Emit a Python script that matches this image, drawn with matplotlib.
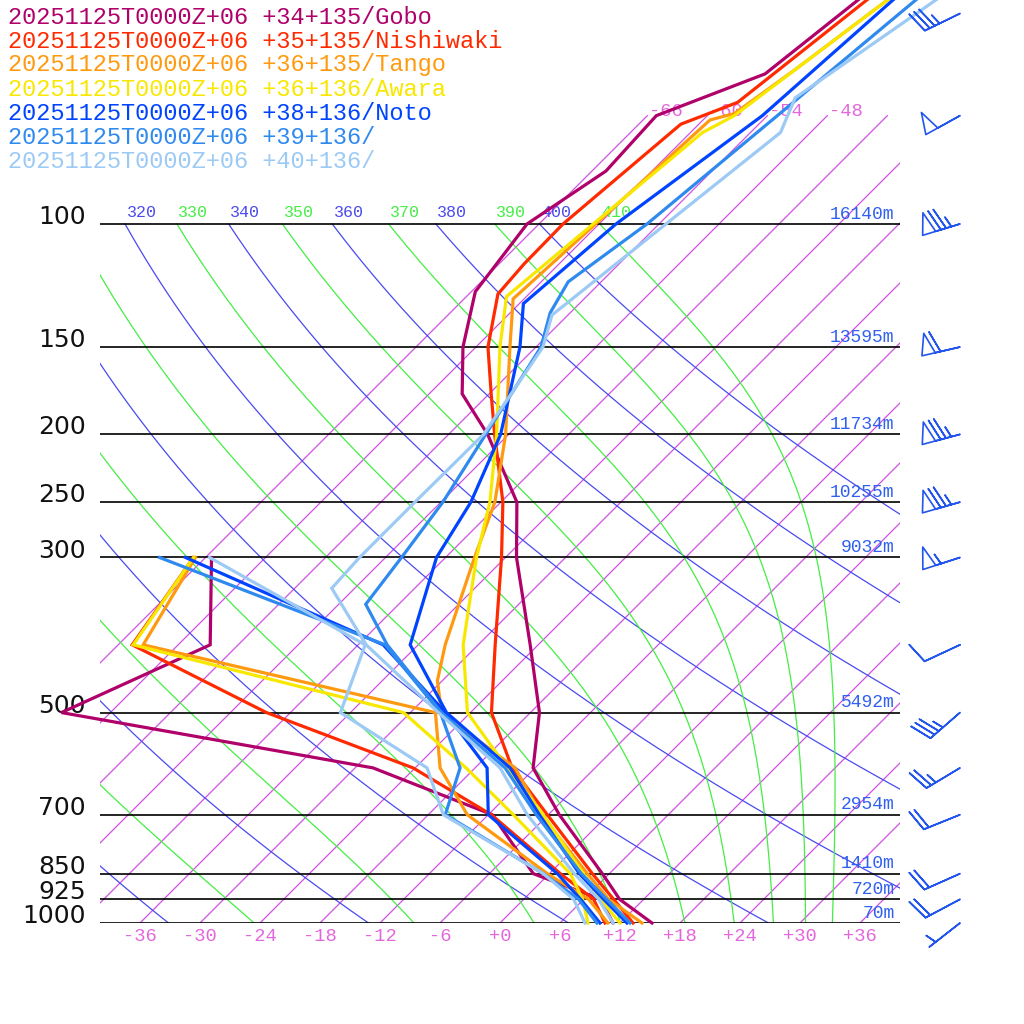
import numpy as np
import matplotlib
matplotlib.use("Agg")
import matplotlib.pyplot as plt

# --- sounding data (pressure hPa, temperature / dewpoint degC) ---
td_levels = [1000, 925, 850, 700, 600, 500, 400, 300]

gobo_p = [1000, 925, 850, 700, 600, 500, 400, 300, 250, 200, 175, 150, 125, 100, 84, 70, 61, 40]
gobo_t = [15.2, 9.6, 5.3, -4.9, -12.2, -17.1, -24.8, -34.9, -40.4, -50.1, -56.7, -61.3, -65.6, -67.2, -64.6, -65.1, -58.4, -55.1]
gobo_td = [11.3, 7.7, -1.6, -11.6, -28.2, -64.9, -56.8, -65.4]

nishiwaki_p = [1000, 925, 850, 700, 600, 500, 400, 300, 250, 200, 175, 150, 126, 114, 100, 72, 67, 40]
nishiwaki_t = [13.3, 9.0, 4.3, -6.1, -14.3, -21.9, -28.3, -36.4, -41.8, -49.4, -53.8, -58.8, -63.1, -63.5, -63.6, -61.8, -58.3, -54.2]
nishiwaki_td = [10.5, 7.0, 1.1, -11.7, -24.2, -44.4, -64.6, -67.2]

tango_p = [1000, 925, 850, 700, 600, 500, 450, 400, 300, 250, 200, 150, 128, 71, 69.5, 60, 50, 40]
tango_t = [14.2, 8.5, 3.8, -6.7, -14.0, -26.9, -30.5, -33.3, -39.1, -42.6, -48.3, -56.6, -61.1, -59.3, -57.5, -55.8, -54.0, -51.7]
tango_td = [10.8, 6.5, -0.2, -14.1, -21.5, -27.5, -63.5, -67.0]

awara_p = [1000, 925, 850, 700, 600, 500, 400, 352, 300, 250, 200, 150, 127, 74, 70, 50, 40]
awara_t = [12.0, 7.7, 3.4, -6.5, -14.8, -24.3, -31.5, -34.8, -38.9, -43.1, -49.2, -57.6, -62.0, -58.8, -57.3, -54.0, -51.7]
awara_td = [8.8, 5.9, 2.1, -9.5, -18.9, -30.7, -64.5, -67.2]

noto_p = [1000, 925, 850, 700, 600, 500, 400, 300, 250, 200, 150, 130, 100, 70, 40]
noto_t = [12.7, 8.0, 3.0, -6.9, -14.5, -26.4, -36.8, -42.9, -45.0, -48.8, -55.6, -59.6, -58.3, -54.5, -52.3]
noto_td = [10.0, 5.7, 0.8, -12.0, -16.8, -26.5, -39.5, -68.0]

n39_p = [1000, 925, 850, 700, 600, 500, 400, 350, 300, 250, 150, 134, 121, 100, 70, 50, 40]
n39_t = [13.0, 8.3, 3.2, -7.2, -15.0, -26.9, -39.1, -45.3, -46.4, -47.8, -53.5, -56.0, -57.3, -55.2, -53.0, -51.0, -49.6]
n39_td = [9.7, 5.5, -0.6, -16.3, -19.5, -27.0, -39.3, -70.6]

n40_p = [1000, 925, 850, 700, 600, 500, 400, 332, 300, 250, 200, 150, 135, 74, 66, 50, 40]
n40_t = [11.3, 7.5, 2.5, -8.1, -15.5, -27.2, -41.2, -50.3, -50.6, -50.6, -50.5, -53.3, -55.6, -51.0, -53.0, -49.3, -46.4]
n40_td = [8.5, 5.0, -0.6, -16.5, -22.8, -37.0, -41.3, -65.6]

labels = ["20251125T0000Z+06 +34+135/Gobo",
          "20251125T0000Z+06 +35+135/Nishiwaki",
          "20251125T0000Z+06 +36+135/Tango",
          "20251125T0000Z+06 +36+136/Awara",
          "20251125T0000Z+06 +38+136/Noto",
          "20251125T0000Z+06 +39+136/",
          "20251125T0000Z+06 +40+136/"]
colors = ["#b0006a", "#ff2a00", "#ff9a10", "#f8e800", "#0044ff", "#2f8af0", "#9ccaf5"]

# standard levels, geopotential heights
std_p = [1000, 925, 850, 700, 500, 300, 250, 200, 150, 100]
std_h = [70, 720, 1410, 2954, 5492, 9032, 10255, 11734, 13595, 16140]

# wind
wind_p = [1000, 925, 850, 700, 600, 500, 400, 300, 250, 200, 150, 100, 70, 50]
wind_dir = [232, 242, 246, 248, 239, 229, 245, 252, 254, 255, 257, 253, 241, 244]
wind_spd = [5, 20, 20, 20, 25, 35, 10, 55, 75, 75, 60, 75, 50, 35]

isotherms = list(range(-66, 37, 6))
bottom_isotherm_labels = list(range(-36, 37, 6))
top_isotherm_labels = [-66, -60, -54, -48]
dry_thetas = list(range(240, 401, 20))
moist_thetas = list(range(250, 411, 20))

K = 30.36  # skew
P_TOP = 1000 * np.exp(-923 / 303.6)


def skx(t, p):
    return np.asarray(t, float) + K * np.log(1000.0 / np.asarray(p, float))


def es(tk):
    return 6.112 * np.exp(17.67 * (tk - 273.15) / (tk - 29.65))


def rsat(tk, p):
    e = es(tk)
    return 0.622 * e / (p - e)


def dtdp(tk, p):
    r = rsat(tk, p)
    return (287.04 * tk + 2.501e6 * r) / (1005.7 + 2.501e6 ** 2 * r * 0.622 / (287.04 * tk * tk)) / p


def thetae_1000(tk):
    r = rsat(tk, 1000.0)
    return tk * np.exp((3376.0 / tk - 2.54) * r * (1 + 0.81 * r))


def moist_line(the, pp):
    lo, hi = 200.0, 320.0
    for _ in range(60):
        mid = 0.5 * (lo + hi)
        if thetae_1000(mid) > the:
            hi = mid
        else:
            lo = mid
    t = 0.5 * (lo + hi)
    out = [t]
    for i in range(len(pp) - 1):
        p0, dp = pp[i], pp[i + 1] - pp[i]
        k1 = dtdp(t, p0)
        k2 = dtdp(t + 0.5 * dp * k1, p0 + 0.5 * dp)
        k3 = dtdp(t + 0.5 * dp * k2, p0 + 0.5 * dp)
        k4 = dtdp(t + dp * k3, p0 + dp)
        t = t + dp / 6 * (k1 + 2 * k2 + 2 * k3 + k4)
        out.append(t)
    return np.array(out) - 273.15


fig = plt.figure(figsize=(10.24, 10.24), dpi=100)
ax = fig.add_axes([100 / 1024, 101 / 1024, 800 / 1024, 923 / 1024])
ax.set_yscale("log")
ax.set_ylim(1000, P_TOP)
ax.set_xlim(-40, 40)
ax.set_axis_off()

mono = "Liberation Mono"
iso_c = "#d050e0"
dry_c = "#4a4af0"
moist_c = "#44ee44"

# isotherms
for t in isotherms:
    pp = np.array([1000.0, 70.0])
    ax.plot(skx(t, pp), pp, color=iso_c, lw=0.9, zorder=1)
for t in bottom_isotherm_labels:
    ax.annotate(f"{t:+d}", xy=(t, 1000), xytext=(0, -10), textcoords="offset points",
                ha="center", va="center", fontsize=13.5, family=mono, color="#e466dc",
                annotation_clip=False)
for t in top_isotherm_labels:
    ax.annotate(f"{t:+d}", xy=(skx(t, 70), 70), xytext=(1, 0), textcoords="offset points",
                ha="left", va="baseline", fontsize=13.5, family=mono, color="#e466dc",
                annotation_clip=False)

pp = np.geomspace(1000, 100, 181)
# dry adiabats
for th in dry_thetas:
    tt = th * (pp / 1000.0) ** 0.2857 - 273.15
    ax.plot(skx(tt, pp), pp, color=dry_c, lw=0.9, zorder=1)
    ax.annotate(str(th), xy=(skx(tt[-1], 100), 100), xytext=(1, 3), textcoords="offset points",
                ha="left", va="bottom", fontsize=12, family=mono, color=dry_c, clip_on=True)
# moist adiabats
for th in moist_thetas:
    tt = moist_line(th, pp)
    ax.plot(skx(tt, pp), pp, color=moist_c, lw=0.9, zorder=1)
    ax.annotate(str(th), xy=(skx(tt[-1], 100), 100), xytext=(1, 3), textcoords="offset points",
                ha="left", va="bottom", fontsize=12, family=mono, color=moist_c, clip_on=True)

# pressure lines, labels, heights
for p, h in zip(std_p, std_h):
    ax.plot([-40, 40], [p, p], color="black", lw=1.2, zorder=2)
    ax.annotate(str(p), xy=(-40, p), xytext=(-10, 5), textcoords="offset points",
                ha="right", va="center", fontsize=18, color="#111111", annotation_clip=False)
    ax.annotate(f"{h}m", xy=(40, p), xytext=(-4, 1), textcoords="offset points",
                ha="right", va="bottom", fontsize=13, family=mono, color="#3060f0",
                annotation_clip=False)

# soundings
stations = [(gobo_p, gobo_t, gobo_td), (nishiwaki_p, nishiwaki_t, nishiwaki_td),
            (tango_p, tango_t, tango_td), (awara_p, awara_t, awara_td),
            (noto_p, noto_t, noto_td), (n39_p, n39_t, n39_td), (n40_p, n40_t, n40_td)]
for (p, t, td), c in zip(stations, colors):
    ax.plot(skx(t, p), p, color=c, lw=2.3, clip_on=False, zorder=5, solid_joinstyle="miter")
    ax.plot(skx(td, td_levels), td_levels, color=c, lw=2.3, clip_on=False, zorder=5,
            solid_joinstyle="miter")

# wind barbs
d = np.radians(wind_dir)
u = -np.array(wind_spd) * np.sin(d)
v = -np.array(wind_spd) * np.cos(d)
ax.barbs(np.full(len(wind_p), 46.0), wind_p, u, v, length=7.5, barbcolor="#2255ee",
         flagcolor="none", linewidth=1.2, clip_on=False, zorder=6,
         sizes=dict(spacing=0.14, height=0.55, width=0.35))

# legend text
for i, (lab, c) in enumerate(zip(labels, colors)):
    fig.text(8 / 1024, 1 - (17 + 24 * i) / 1024, lab, color=c, fontsize=17, family=mono,
             ha="left", va="center")

fig.savefig("out.png", dpi=100)
